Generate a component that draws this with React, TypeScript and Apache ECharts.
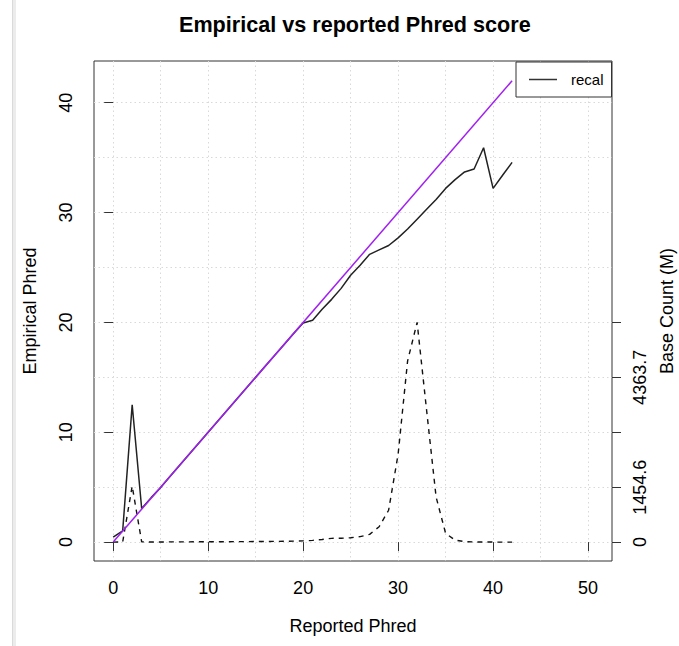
import React, { useEffect, useRef } from "react";
import * as echarts from "echarts";

// ---- data ----
const reportedPhred = [
  0, 1, 2, 3, 4, 5, 6, 7, 8, 9, 10, 11, 12, 13, 14, 15, 16, 17, 18, 19, 20,
  21, 22, 23, 24, 25, 26, 27, 28, 29, 30, 31, 32, 33, 34, 35, 36, 37, 38, 39,
  40, 41, 42,
];
const empiricalPhred = [
  0.45, 1.03, 12.5, 3.06, 4.05, 4.97, 6.0, 7.0, 8.0, 9.0, 10.0, 11.0, 12.0,
  13.0, 14.0, 15.0, 16.0, 17.0, 18.0, 19.0, 19.94, 20.2, 21.2, 22.1, 23.1,
  24.3, 25.2, 26.2, 26.6, 27.0, 27.7, 28.5, 29.4, 30.3, 31.2, 32.2, 33.0,
  33.7, 33.97, 35.9, 32.2, 33.4, 34.57,
];
// base count (M) per reported quality
const baseCountM = [
  0, 3, 1484, 6, 3, 4, 5, 6, 7, 8, 9, 10, 11, 12, 13, 15, 17, 19, 22, 26, 32,
  45, 70, 100, 102, 116, 145, 204, 407, 844, 2327, 4800, 5818.3, 3491, 1193,
  233, 52, 12, 4, 2, 1, 0, 0,
];
const idealX = [0, 42];
const idealY = [0, 42];

const xTicks = [0, 10, 20, 30, 40, 50];
const yTicks = [0, 10, 20, 30, 40];
const countTicks = [0, 1454.6, 2909.1, 4363.7, 5818.3];
const countLabelValues = [0, 1454.6, 4363.7];
const countLabels = ["0", "1454.6", "4363.7"];
const maxCount = 5818.3; // drawn at empirical 20
const countTop = 20;

const FONT = "'Liberation Sans', Arial, Helvetica, sans-serif";

const X_MIN = -2.02;
const X_MAX = 52.52;
const Y_MIN = -1.72;
const Y_MAX = 43.8;
const G = { left: 94, top: 61, width: 518, height: 500 };

export default function App() {
  const ref = useRef<HTMLDivElement>(null);
  useEffect(() => {
    if (!ref.current) return;
    const chart = echarts.init(ref.current, null, { renderer: "svg" });
    const pxX = G.width / (X_MAX - X_MIN);
    const pxY = G.height / (Y_MAX - Y_MIN);
    const xPx = (v: number) => G.left + (v - X_MIN) * pxX;
    const yPx = (v: number) => G.top + (Y_MAX - v) * pxY;
    const scale = maxCount / countTop;
    const gridLine = {
      show: true,
      lineStyle: { color: "#d9d9d9", width: 1, type: [1.5, 3] as any },
    };
    chart.setOption({
      animation: false,
      title: {
        text: "Empirical vs reported Phred score",
        left: 179,
        top: 13,
        padding: 0,
        textStyle: { fontSize: 21.6, fontWeight: "bold", color: "#000", fontFamily: FONT },
      },
      graphic: [
        { type: "rect", left: 12, top: 0, shape: { width: 4, height: 646 }, style: { fill: "#ececec" }, z: -10 },
        { type: "rect", left: 12, top: 0, shape: { width: 1, height: 646 }, style: { fill: "#dadada" }, z: -10 },
      ],
      legend: {
        data: [{ name: "recal", icon: "rect" }],
        left: 516,
        top: 62,
        itemWidth: 28,
        itemHeight: 1.5,
        padding: [10, 8, 10, 13],
        borderColor: "#333",
        borderWidth: 1,
        backgroundColor: "#fff",
        selectedMode: false,
        textStyle: { fontSize: 15, color: "#000", fontFamily: FONT, padding: [0, 0, 0, 9] },
      },
      grid: [
        { ...G, show: true, borderColor: "#333", borderWidth: 1, backgroundColor: "transparent", containLabel: false, outerBoundsMode: "none" },
        { left: xPx(0), width: xPx(50) - xPx(0), top: G.top, height: G.height, outerBoundsMode: "none" },
        { left: G.left, width: G.width, top: yPx(40), height: yPx(0) - yPx(40), outerBoundsMode: "none" },
      ],
      xAxis: [
        {
          gridIndex: 0,
          type: "value",
          min: X_MIN,
          max: X_MAX,
          axisLine: { show: false },
          axisTick: { customValues: xTicks, length: 9, lineStyle: { color: "#333" } },
          axisLabel: { customValues: xTicks, fontSize: 18, color: "#000", margin: 18, fontFamily: FONT },
          splitLine: { show: false },
          name: "Reported Phred",
          nameLocation: "middle",
          nameGap: 56,
          nameTextStyle: { fontSize: 18, color: "#000", fontFamily: FONT },
        },
        {
          gridIndex: 1,
          type: "value",
          min: 0,
          max: 50,
          interval: 5,
          axisLine: { show: false },
          axisTick: { show: false },
          axisLabel: { show: false },
          splitLine: gridLine,
        },
        { gridIndex: 2, type: "value", min: 0, max: 1, show: false },
      ],
      yAxis: [
        {
          gridIndex: 0,
          type: "value",
          position: "left",
          min: Y_MIN,
          max: Y_MAX,
          axisLine: { show: false },
          axisTick: { customValues: yTicks, length: 9, lineStyle: { color: "#333" } },
          axisLabel: { customValues: yTicks, rotate: 90, fontSize: 18, color: "#000", margin: 19, fontFamily: FONT },
          splitLine: { show: false },
          name: "Empirical Phred",
          nameLocation: "middle",
          nameRotate: 90,
          nameGap: 55,
          nameTextStyle: { fontSize: 18, color: "#000", fontFamily: FONT },
        },
        {
          gridIndex: 0,
          type: "value",
          position: "right",
          min: Y_MIN * scale,
          max: Y_MAX * scale,
          axisLine: { show: false },
          axisTick: { customValues: countTicks, length: 9, lineStyle: { color: "#333" } },
          axisLabel: {
            customValues: countLabelValues,
            rotate: 90,
            fontSize: 18,
            color: "#000",
            margin: 19,
            fontFamily: FONT,
            formatter: (v: number) => {
              const i = countLabelValues.indexOf(v);
              return i >= 0 ? countLabels[i] : String(v);
            },
          },
          splitLine: { show: false },
          name: "Base Count (M)",
          nameLocation: "middle",
          nameRotate: 90,
          nameGap: 46,
          nameTextStyle: { fontSize: 18, color: "#000", fontFamily: FONT },
        },
        { gridIndex: 1, type: "value", min: 0, max: 1, show: false },
        {
          gridIndex: 2,
          type: "value",
          min: 0,
          max: 40,
          interval: 5,
          axisLine: { show: false },
          axisTick: { show: false },
          axisLabel: { show: false },
          splitLine: gridLine,
        },
      ],
      series: [
        {
          type: "line",
          name: "recal",
          xAxisIndex: 0,
          yAxisIndex: 0,
          data: reportedPhred.map((x, i) => [x, empiricalPhred[i]]),
          symbol: "none",
          lineStyle: { color: "#222", width: 1.5 },
          itemStyle: { color: "#333" },
          z: 3,
        },
        {
          type: "line",
          name: "Base count",
          xAxisIndex: 0,
          yAxisIndex: 1,
          data: reportedPhred.map((x, i) => [x, baseCountM[i]]),
          symbol: "none",
          lineStyle: { color: "#111", width: 1.4, type: [5, 5] as any },
          z: 3,
        },
        {
          type: "line",
          name: "ideal",
          xAxisIndex: 0,
          yAxisIndex: 0,
          data: idealX.map((x, i) => [x, idealY[i]]),
          symbol: "none",
          lineStyle: { color: "#A020F0", width: 1.5 },
          z: 4,
        },
      ],
    });
    return () => chart.dispose();
  }, []);
  return (
    <div
      ref={ref}
      style={{ position: "fixed", left: 0, top: 0, width: 679, height: 646, background: "#fff" }}
    />
  );
}
